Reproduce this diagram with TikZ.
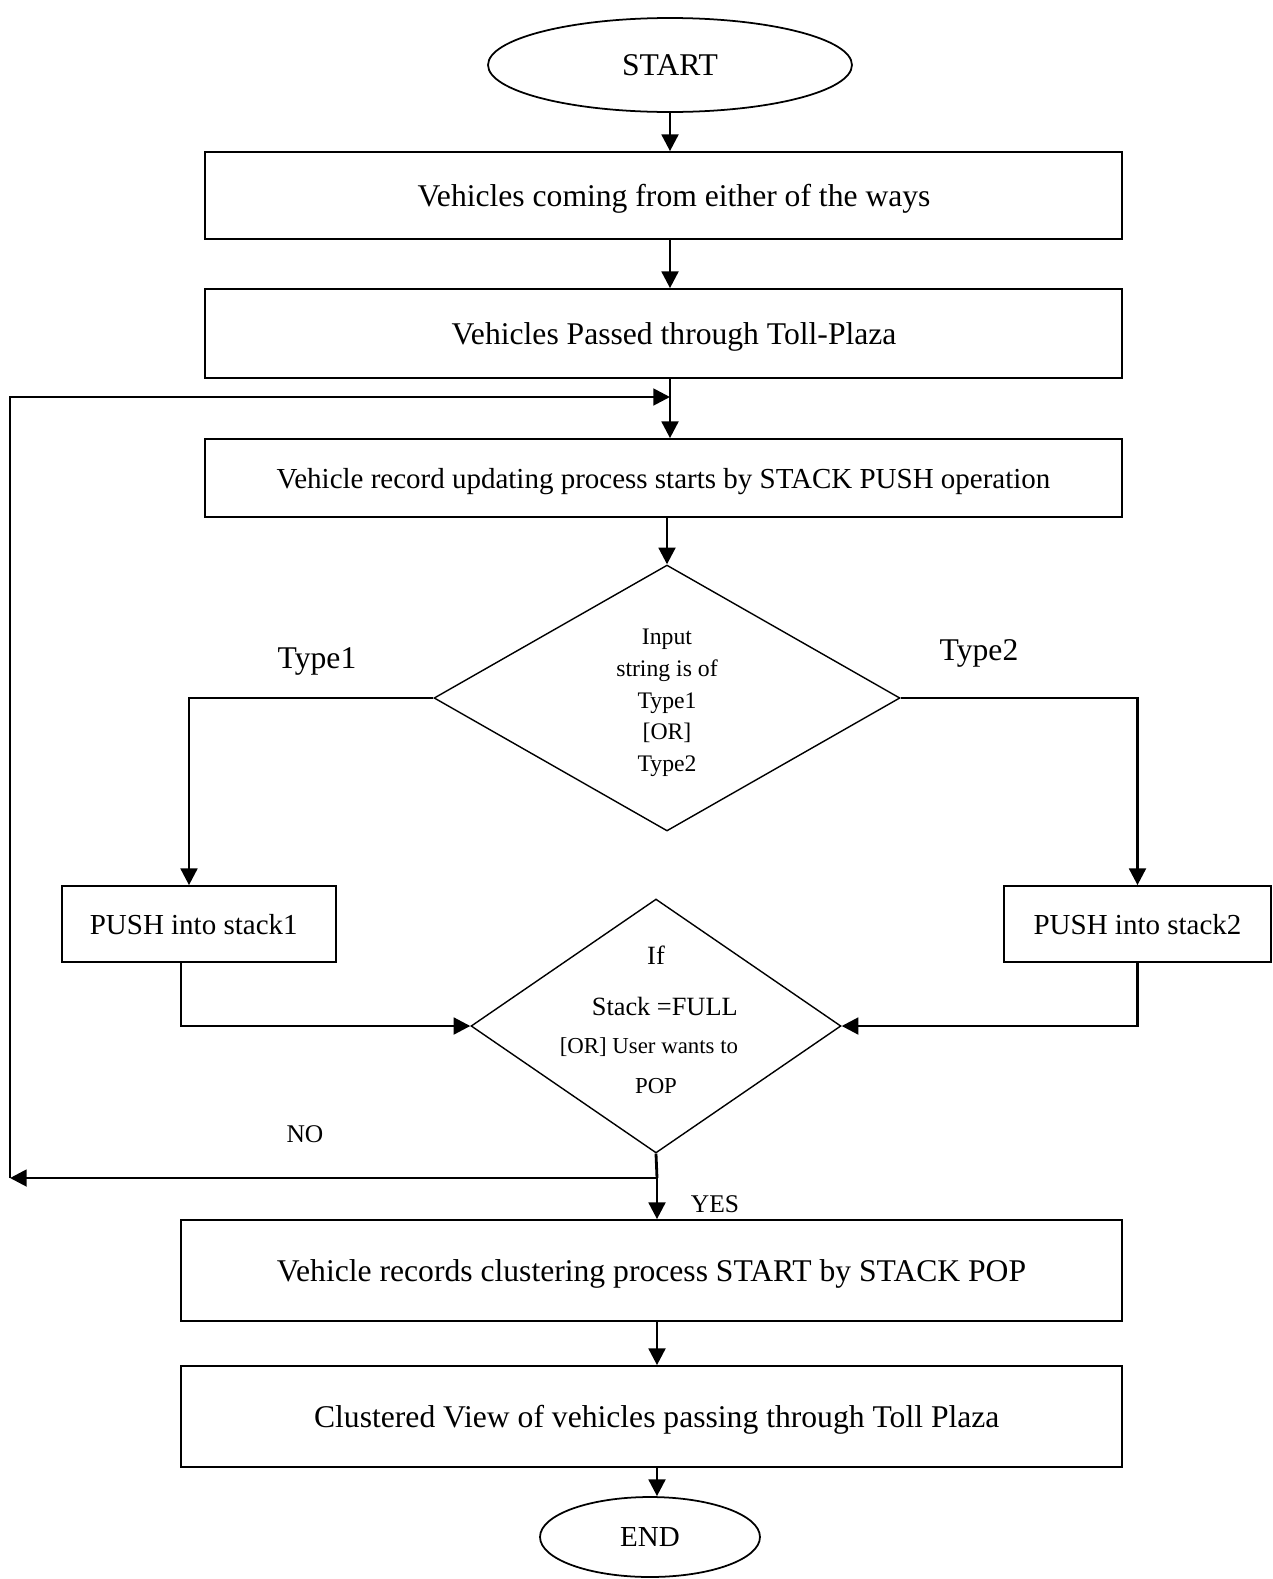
\documentclass[tikz,border=0pt]{standalone}
\usepackage{fontspec}
\setmainfont{Liberation Serif}
\usetikzlibrary{shapes.geometric,arrows.meta}
\begin{document}
\begin{tikzpicture}[x=0.02cm,y=-0.02cm,
  line width=1pt,
  arr/.style={line width=1.6pt,-{Triangle[length=9.5pt,width=9.5pt]}},
  wire/.style={line width=1.6pt},
  box/.style={draw,rectangle,inner sep=0pt,align=center,text depth=0pt},
  oval/.style={draw,ellipse,inner sep=0pt,text depth=0pt},
  decision/.style={draw,diamond,inner sep=0pt,align=center,line width=0.8pt},
  inside/.style={align=center,inner sep=0pt},
  big/.style={font=\fontsize{18}{22}\selectfont},
  mid/.style={font=\fontsize{16.5}{20}\selectfont},
  small/.style={font=\fontsize{14.5}{18}\selectfont}]
\useasboundingbox (0,0) rectangle (1272,1579);

% terminals and process boxes
\node[oval,big,minimum width=7.28cm,minimum height=1.88cm] (start) at (670,65) {START};
\node[box,big,minimum width=18.34cm,minimum height=1.74cm] (b1) at (663.5,195.5) {\hspace*{12pt}Vehicles coming from either of the ways};
\node[box,big,minimum width=18.34cm,minimum height=1.78cm] (b2) at (663.5,333.5) {\hspace*{12pt}Vehicles Passed through Toll-Plaza};
\node[box,mid,minimum width=18.34cm,minimum height=1.56cm] (b3) at (663.5,478) {Vehicle record updating process starts by STACK PUSH operation};

% type decision
\node[decision,minimum width=9.32cm,minimum height=5.32cm] (d1) at (667,698) {};
\node[inside,font=\fontsize{13.5}{18}\selectfont] (d1t) at (667,703)
  {Input\\string is of\\Type1\\{[OR]}\\Type2};
\node[big] (t1) at (317,661) {Type1};
\node[big] (t2) at (979,653) {Type2};

% the two stacks
\node[box,mid,minimum width=5.48cm,minimum height=1.52cm] (s1) at (199,924) {PUSH into stack1\hspace*{6pt}};
\node[box,mid,minimum width=5.34cm,minimum height=1.52cm] (s2) at (1137.5,924) {PUSH into stack2};

% full / pop decision
\node[decision,minimum width=7.4cm,minimum height=5.08cm] (d2) at (656,1026) {};
\node[inside,font=\fontsize{15}{18}\selectfont] (d2t) at (656,1020)
  {If\\[11pt]\hspace*{10pt}Stack =FULL\\[3.5pt]{\fontsize{13}{18}\selectfont\hspace*{-8pt}[OR] User wants to}\\[5pt]{\fontsize{13}{18}\selectfont POP}};
\node[small] (no) at (305,1134) {NO};
\node[small] (yes) at (715,1204) {YES};

\node[box,big,minimum width=18.82cm,minimum height=2.02cm] (b5) at (651.5,1270.5) {Vehicle records clustering process START by STACK POP};
\node[box,big,minimum width=18.82cm,minimum height=2.02cm] (b6) at (651.5,1416.5) {\hspace*{6pt}Clustered View of vehicles passing through Toll Plaza};
\node[oval,mid,minimum width=4.4cm,minimum height=1.6cm] (end) at (650,1537) {END};

% junction points of the loop
\coordinate (j) at (657,1178);
\coordinate (lb) at (10,1178);
\coordinate (lt) at (10,397);
\coordinate (m) at (670,397);

% connectors
\draw[arr] (start.south) -- (start.south |- b1.north);
\draw[arr] (b1.south -| start.south) -- (b2.north -| start.south);
\draw[arr] (b2.south -| start.south) -- (b3.north -| start.south);
\draw[arr] (b3.south -| d1.north) -- (d1.north);
\draw[arr] (d1.west) -| ([xshift=-0.2cm]s1.north);
\draw[arr] (d1.east) -| (s2.north);
\draw[arr] ([xshift=-0.36cm]s1.south) |- (d2.west);
\draw[arr] (s2.south) |- (d2.east);
\draw[wire] (d2.south) -- (j);
\draw[arr] (j) -- (lb);
\draw[arr] (lb) -- (lt) -- (m);
\draw[arr] (j) -- (j |- b5.north);
\draw[arr] (b5.south -| j) -- (b6.north -| j);
\draw[arr] (b6.south -| j) -- (end.north -| j);
\end{tikzpicture}
\end{document}
